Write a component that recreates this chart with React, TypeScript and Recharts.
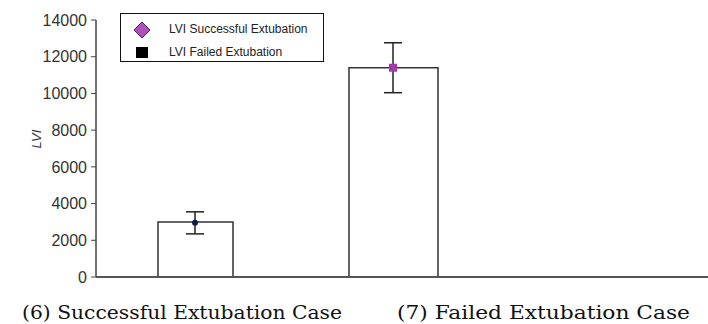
import React from "react"
import { ComposedChart, Bar, Line, XAxis, YAxis, ErrorBar, Legend } from "recharts"

const categories = ["(6) Successful Extubation Case", "(7) Failed Extubation Case", ""]
const barValues = [3000, 11400, null]
const successMean = [2950, null, null]
const failedMean = [null, 11400, null]
const errors = [600, 1360, null]
const yTicks = [0, 2000, 4000, 6000, 8000, 10000, 12000, 14000]

const data = categories.map((name, i) => ({
  name,
  bar1: i === 0 ? barValues[i] : null,
  bar2: i === 1 ? barValues[i] : null,
  success: successMean[i],
  failed: failedMean[i],
  err: errors[i],
}))

const SuccessDot = (props: any) => {
  const { cx, cy, value } = props
  if (value == null || cx == null) return null
  return <circle cx={cx} cy={cy} r={3} fill="#101850" />
}

const FailedDot = (props: any) => {
  const { cx, cy, value } = props
  if (value == null || cx == null) return null
  return <rect x={cx - 4} y={cy - 4} width={8} height={8} fill="#a03aa8" />
}

const renderLegend = () => (
  <div
    style={{
      border: "1px solid #111",
      width: 204,
      height: 49,
      background: "#fff",
      fontFamily: "Liberation Sans, Arial, sans-serif",
      fontSize: 12,
      color: "#222",
      boxSizing: "border-box",
      position: "relative",
    }}
  >
    <svg width={20} height={20} style={{ position: "absolute", left: 11, top: 6 }}>
      <polygon points="10,2 18,10 10,18 2,10" fill="#b050b8" stroke="#502060" strokeWidth={1} />
    </svg>
    <span style={{ position: "absolute", left: 48, top: 8 }}>LVI Successful Extubation</span>
    <div style={{ position: "absolute", left: 15, top: 33, width: 12, height: 11, background: "#000" }} />
    <span style={{ position: "absolute", left: 48, top: 31 }}>LVI Failed Extubation</span>
  </div>
)

export default function App() {
  return (
    <div style={{ position: "absolute", left: 0, top: 0, width: 708, height: 324, background: "#fff" }}>
      <ComposedChart
        width={708}
        height={324}
        data={data}
        margin={{ top: 20, right: 0, left: 0, bottom: 45 }}
      >
        <XAxis
          xAxisId="a"
          dataKey="name"
          tick={false}
          tickLine={false}
          height={2}
          padding={{ left: 0, right: 18 }}
          axisLine={{ stroke: "#555", strokeWidth: 2 }}
        />
        <XAxis xAxisId="b" dataKey="name" hide padding={{ left: 0, right: 18 }} />
        <YAxis
          width={96}
          domain={[0, 14000]}
          ticks={yTicks}
          interval={0}
          tickSize={5}
          tickMargin={4}
          axisLine={{ stroke: "#444", strokeWidth: 1.5 }}
          tickLine={{ stroke: "#444" }}
          tick={{ fill: "#333", fontSize: 16, fontFamily: "Liberation Sans, Arial, sans-serif" }}
          label={{
            value: "LVI",
            angle: -90,
            position: "insideLeft",
            offset: 36,
            style: { fontStyle: "italic", fontSize: 13, fill: "#333", fontFamily: "Liberation Sans, Arial, sans-serif" },
          }}
        />
        <Legend
          content={renderLegend}
          layout="horizontal"
          verticalAlign="middle"
          align="center"
          wrapperStyle={{ left: 120, top: 13, width: 205 }}
        />
        <Bar xAxisId="a" dataKey="bar1" barSize={75} fill="#fff" stroke="#333" strokeWidth={1.5} isAnimationActive={false} />
        <Bar xAxisId="b" dataKey="bar2" barSize={89} fill="#fff" stroke="#333" strokeWidth={1.5} isAnimationActive={false} />
        <Line
          xAxisId="a"
          dataKey="success"
          stroke="none"
          dot={<SuccessDot />}
          activeDot={false}
          isAnimationActive={false}
        >
          <ErrorBar dataKey="err" width={9} stroke="#222" strokeWidth={1.5} direction="y" />
        </Line>
        <Line
          xAxisId="a"
          dataKey="failed"
          stroke="none"
          dot={<FailedDot />}
          activeDot={false}
          isAnimationActive={false}
        >
          <ErrorBar dataKey="err" width={9} stroke="#222" strokeWidth={1.5} direction="y" />
        </Line>
      </ComposedChart>
      <svg width={708} height={30} style={{ position: "absolute", left: 0, top: 294 }}>
        <text x={22} y={25} textLength={320} lengthAdjust="spacingAndGlyphs" fontFamily="DejaVu Serif, serif" fontSize={18} fill="#111">
          {categories[0]}
        </text>
        <text x={397} y={25} textLength={293} lengthAdjust="spacingAndGlyphs" fontFamily="DejaVu Serif, serif" fontSize={18} fill="#111">
          {categories[1]}
        </text>
      </svg>
    </div>
  )
}
